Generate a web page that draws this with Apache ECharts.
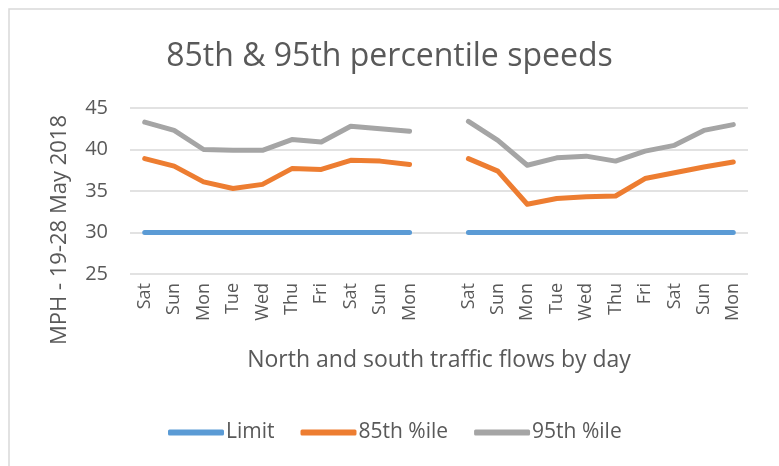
<!DOCTYPE html>
<html><head><meta charset="utf-8">
<script src="https://cdn.jsdelivr.net/npm/echarts@6/dist/echarts.min.js"></script>
<style>html,body{margin:0;padding:0;background:#fff}#c{width:779px;height:466px}</style>
</head><body><div id="c"></div>
<script>
const categories = ['Sat','Sun','Mon','Tue','Wed','Thu','Fri','Sat','Sun','Mon','',
                    'Sat','Sun','Mon','Tue','Wed','Thu','Fri','Sat','Sun','Mon'];
const limit = [30,30,30,30,30,30,30,30,30,30,null,30,30,30,30,30,30,30,30,30,30];
const p85 = [38.9,38.0,36.1,35.3,35.8,37.7,37.6,38.7,38.6,38.2,null,
             38.9,37.4,33.4,34.1,34.3,34.4,36.5,37.2,37.9,38.5];
const p95 = [43.3,42.3,40.0,39.9,39.9,41.2,40.9,42.8,42.5,42.2,null,
             43.4,41.1,38.1,39.0,39.2,38.6,39.8,40.5,42.3,43.0];
const yTicks = {min:25, max:45, interval:5};
const FONT = '"Open Sans", sans-serif';
const TXT = '#595959';
const chart = echarts.init(document.getElementById('c'), null, {renderer:'canvas'});
function line(name, data, color){
  return {name, type:'line', data, symbol:'none', connectNulls:false,
    lineStyle:{color, width:5, cap:'round', join:'round'}, itemStyle:{color}};
}
chart.setOption({
  animation:false,
  title:{text:'85th & 95th percentile speeds', left:'center', top:36,
    textStyle:{fontFamily:FONT, fontSize:32, fontWeight:'normal', color:TXT}},
  graphic:[
    {type:'rect', shape:{x:9, y:9, width:780, height:470}, style:{fill:'none', stroke:'#d9d9d9', lineWidth:1.5}, silent:true},
    {type:'text', x:60, y:230, rotation:Math.PI/2,
     style:{text:'MPH - 19-28 May 2018', fontFamily:FONT, fontSize:22, fill:TXT, align:'center', verticalAlign:'middle'}}
  ],
  grid:{left:130, right:31, top:108, bottom:192},
  legend:{top:417, left:163, icon:'roundRect', itemWidth:56, itemHeight:6, itemGap:26,
    textStyle:{fontFamily:FONT, fontSize:21, color:TXT, padding:[0,0,0,-3]},
    data:['Limit','85th %ile','95th %ile']},
  xAxis:{type:'category', data:categories, boundaryGap:true,
    axisLine:{show:false}, axisTick:{show:false},
    axisLabel:{rotate:90, interval:0, fontFamily:FONT, fontSize:18, color:TXT, margin:9},
    name:'North and south traffic flows by day', nameLocation:'middle', nameGap:75,
    nameTextStyle:{fontFamily:FONT, fontSize:23, color:TXT}},
  yAxis:{type:'value', min:yTicks.min, max:yTicks.max, interval:yTicks.interval,
    axisLine:{show:false}, axisTick:{show:false},
    axisLabel:{fontFamily:FONT, fontSize:20, color:TXT, margin:22},
    splitLine:{lineStyle:{color:'#d9d9d9', width:1.5}}},
  series:[line('Limit', limit, '#5B9BD5'), line('85th %ile', p85, '#ED7D31'), line('95th %ile', p95, '#A5A5A5')]
});
</script></body></html>
